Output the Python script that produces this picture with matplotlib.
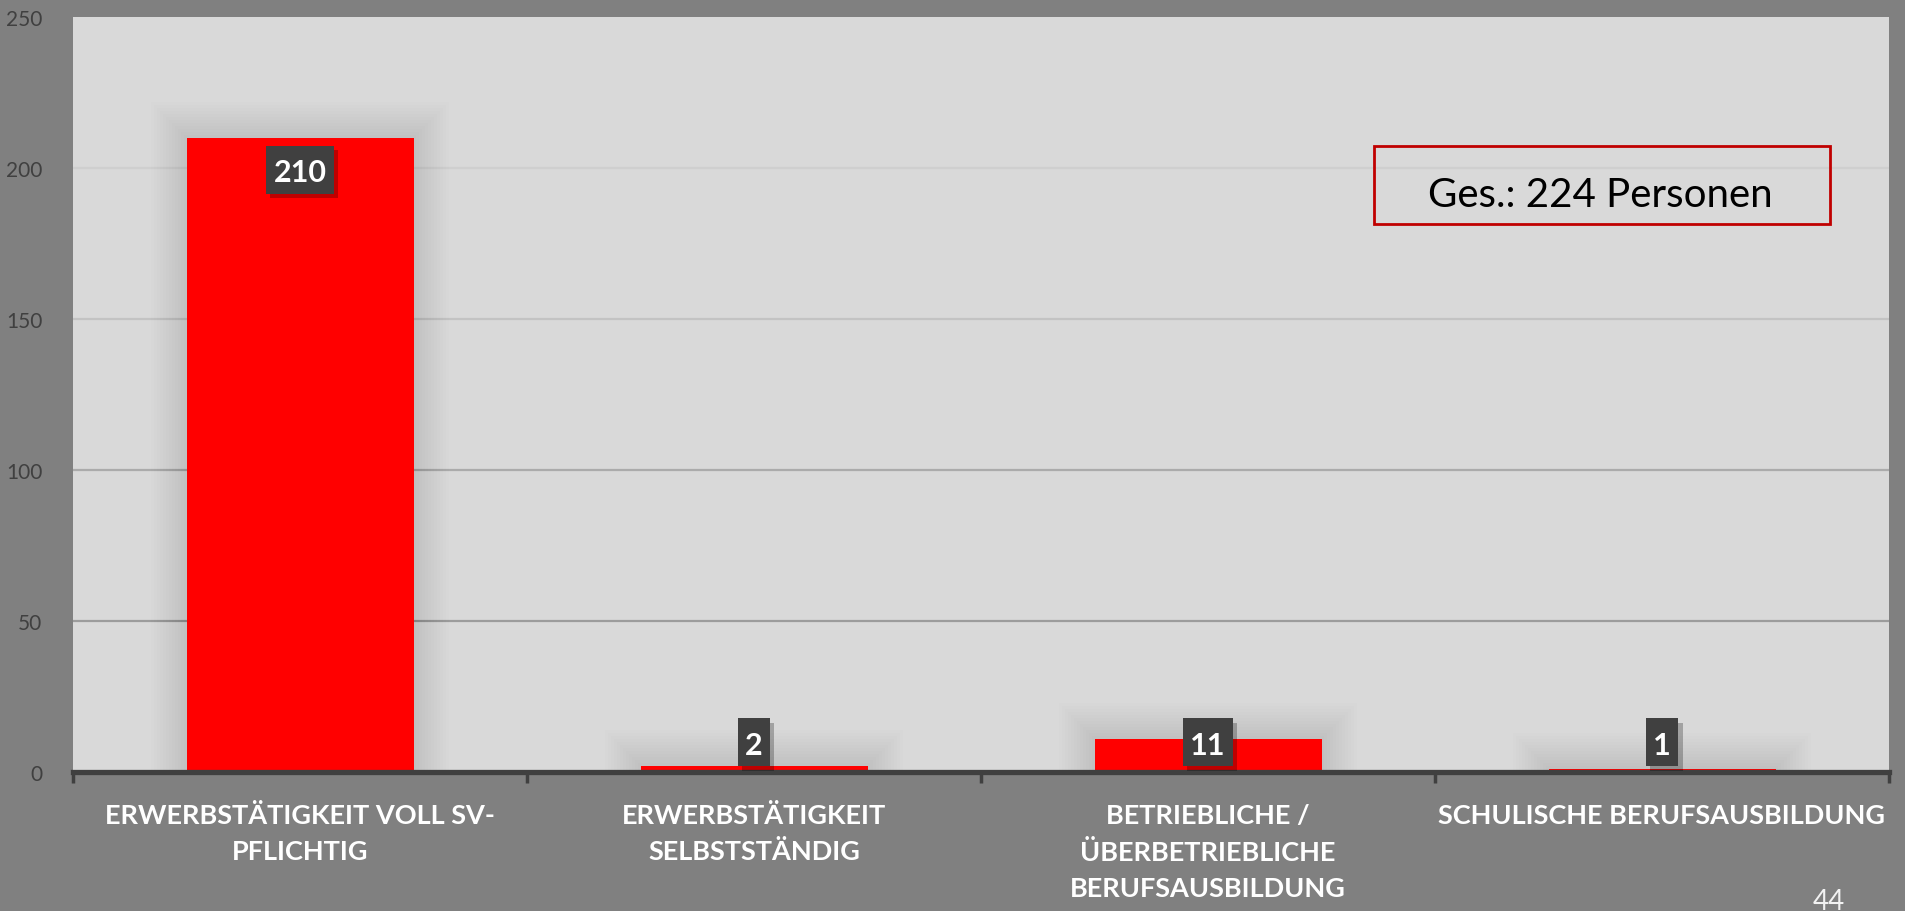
import matplotlib
matplotlib.use("Agg")
import matplotlib.pyplot as plt
from matplotlib.patches import Rectangle
from matplotlib.transforms import IdentityTransform
import matplotlib.patheffects as pe

# ---- data ----
categories = [
    "ERWERBSTÄTIGKEIT VOLL SV-\nPFLICHTIG",
    "ERWERBSTÄTIGKEIT\nSELBSTSTÄNDIG",
    "BETRIEBLICHE /\nÜBERBETRIEBLICHE\nBERUFSAUSBILDUNG",
    "SCHULISCHE BERUFSAUSBILDUNG",
]
values = [210, 2, 11, 1]
yticks = [0, 50, 100, 150, 200, 250]
total_text = "Ges.: 224 Personen"
page_number = "44"

# ---- style ----
W, H = 1906, 912
FIG_BG = "#808080"
PLOT_BG = "#d9d9d9"
BAR_COLOR = "#ff0000"
DARK = "#404040"
grid_colors = {50: "#9c9c9c", 100: "#ababab", 150: "#c3c3c3", 200: "#cfcfcf"}
FONT = "Lato"
LABEL_BOX_H = 48   # px
LABEL_PAD_X = 7.5  # px

plt.rcParams["font.family"] = [FONT, "DejaVu Sans"]

fig = plt.figure(figsize=(W / 100, H / 100), dpi=100, facecolor=FIG_BG)
left_px, right_px, top_px, zero_px = 73, 1889, 18, 773
ax = fig.add_axes([left_px / W, (H - zero_px) / H,
                   (right_px - left_px) / W, (zero_px - top_px) / H])
ax.set_facecolor(PLOT_BG)
ax.set_xlim(-0.5, len(values) - 0.5)
ax.set_ylim(0, 250)

for s in ax.spines.values():
    s.set_visible(False)

# gridlines
for yv, c in grid_colors.items():
    ax.axhline(yv, color=c, lw=1.6, zorder=1)

x = list(range(len(values)))

# soft halo shadow behind bars
for k in range(1, 13):
    ax.bar(x, [v + k * 1.0 for v in values], width=0.5 + k * 0.013,
           color="black", alpha=0.009, zorder=2, linewidth=0)

ax.bar(x, values, width=0.5, color=BAR_COLOR, zorder=3, linewidth=0)

# zero axis line
ax.axhline(0, color=DARK, lw=3.8, zorder=4, clip_on=False)

# ticks
ax.set_yticks(yticks)
ax.set_yticklabels([str(t) for t in yticks], fontsize=15, color=DARK)
ax.tick_params(axis="y", length=0, pad=22)

ax.set_xticks(x)
ax.set_xticklabels(categories, fontsize=19.5, fontweight="bold", color="white",
                   linespacing=1.6, va="top")
ax.tick_params(axis="x", which="major", length=0, pad=22)
ax.set_xticks([i - 0.5 for i in range(len(values) + 1)], minor=True)
ax.tick_params(axis="x", which="minor", length=8, width=2.5, color=DARK,
               direction="out")

# value labels
texts = []
for i, v in enumerate(values):
    yc = max(v - 10.6, 9.8)
    t = ax.text(i, yc, str(v), ha="center", va="center_baseline", fontsize=22,
                fontweight="bold", color="white", zorder=7)
    texts.append((t, i, yc))

fig.canvas.draw()
renderer = fig.canvas.get_renderer()
for t, i, yc in texts:
    ext = t.get_window_extent(renderer)
    cx, cy = ax.transData.transform((i, yc))
    w = ext.width + 2 * LABEL_PAD_X
    r = Rectangle((cx - w / 2, cy - LABEL_BOX_H / 2), w, LABEL_BOX_H,
                  transform=IdentityTransform(), fc=DARK, ec="none", zorder=6)
    r.set_path_effects([
        pe.SimplePatchShadow(offset=(3, -3), shadow_rgbFace="black", alpha=0.25),
        pe.Normal()])
    ax.add_artist(r)

# total box
bx0, bx1, by0, by1 = 1374, 1830, 147, 225
fig.patches.append(Rectangle((bx0 / W, (H - by1) / H), (bx1 - bx0) / W,
                             (by1 - by0) / H, transform=fig.transFigure,
                             fill=False, ec="#c00000", lw=2, zorder=10))
fig.text(1428 / W, (H - 207) / H, total_text, fontsize=29,
         color="black", ha="left", va="baseline", zorder=11)

# page number
fig.text(1829 / W, (H - 889) / H, page_number, fontsize=20, color="#f2f2f2",
         ha="center", va="top")

fig.savefig("out.png", dpi=100, facecolor=FIG_BG)
